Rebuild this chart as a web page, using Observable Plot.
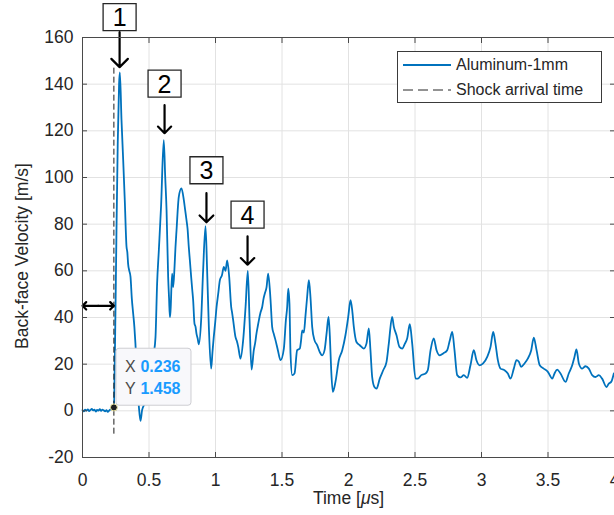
<!DOCTYPE html>
<html>
<head>
<meta charset="utf-8">
<script src="https://cdn.jsdelivr.net/npm/d3@7"></script>
<script src="https://cdn.jsdelivr.net/npm/@observablehq/plot@0.6"></script>
<style>
  html, body { margin: 0; padding: 0; background: white; }
  #wrap { position: relative; width: 614px; height: 515px; overflow: hidden; font-family: "Liberation Sans", Arial, sans-serif; }
  #legend { position: absolute; left: 397px; top: 51px; width: 203px; height: 50px; border: 1px solid #3a3a3a; background: white; font-size: 16px; color: #262626; }
  #legend .row { position: absolute; left: 0; height: 20px; display: flex; align-items: center; }
  #legend svg { margin-left: 5px; margin-right: 5px; }
</style>
</head>
<body>
<div id="wrap"></div>
<script>
// ---- data ----
const seriesName = "Aluminum-1mm";
const shockName = "Shock arrival time";
const xLabel = "Time [μs]";
const yLabel = "Back-face Velocity [m/s]";
const xTicks = [0, 0.5, 1, 1.5, 2, 2.5, 3, 3.5, 4];
const yTicks = [-20, 0, 20, 40, 60, 80, 100, 120, 140, 160];

const time = [
  0, 0.01, 0.02, 0.03, 0.04, 0.05, 0.06, 0.07, 0.08, 0.09, 0.10, 0.11, 0.12, 0.13, 0.14, 0.15, 0.16, 0.17, 0.18, 0.19, 0.20, 0.21, 0.22, 0.23, 0.236,
  0.245, 0.255, 0.265, 0.275, 0.281, 0.293, 0.306, 0.318, 0.331, 0.337, 0.343, 0.352, 0.361, 0.371, 0.381, 0.39, 0.398, 0.411, 0.424, 0.436, 0.448, 0.467, 0.486, 0.505, 0.524, 0.537, 0.549, 0.561, 0.574, 0.591, 0.611,
  0.622, 0.632, 0.644, 0.651, 0.657, 0.662, 0.674, 0.682, 0.692, 0.699, 0.707, 0.724, 0.744, 0.762, 0.772, 0.782, 0.790, 0.799, 0.808, 0.817, 0.825, 0.832, 0.842, 0.850, 0.857, 0.866, 0.875, 0.892, 0.907, 0.925,
  0.937, 0.950, 0.967, 0.977, 0.987, 0.998, 1.008, 1.020, 1.033, 1.048, 1.063, 1.075, 1.088, 1.103, 1.118, 1.125, 1.133, 1.150, 1.160, 1.171, 1.188, 1.208, 1.226, 1.243, 1.256, 1.271,
  1.288, 1.298, 1.308, 1.317, 1.326, 1.338, 1.351, 1.361, 1.371, 1.384, 1.396, 1.414, 1.426, 1.438, 1.451, 1.469, 1.489, 1.514, 1.529, 1.539, 1.547, 1.556, 1.564, 1.577, 1.594, 1.614, 1.634, 1.643, 1.652, 1.664, 1.677, 1.689, 1.702,
  1.714, 1.727, 1.744, 1.765, 1.784, 1.802, 1.820, 1.835, 1.850, 1.860, 1.870, 1.882, 1.902, 1.927, 1.953, 1.977, 1.998, 2.015, 2.028, 2.040, 2.060, 2.085, 2.115, 2.135, 2.153, 2.165, 2.178, 2.195, 2.211, 2.235, 2.261, 2.286, 2.303, 2.328,
  2.341, 2.361, 2.383, 2.404, 2.424, 2.441, 2.461, 2.479, 2.504, 2.521, 2.547, 2.579, 2.596, 2.617, 2.641, 2.662, 2.687, 2.712, 2.742, 2.762, 2.780, 2.797, 2.817, 2.842, 2.867, 2.892, 2.917, 2.942, 2.962, 2.987,
  3.012, 3.043, 3.068, 3.088, 3.105, 3.123, 3.143, 3.173, 3.198, 3.218, 3.243, 3.263, 3.281, 3.298, 3.323, 3.348, 3.374, 3.393, 3.414, 3.438, 3.468, 3.499, 3.532, 3.549, 3.569, 3.594, 3.632, 3.656, 3.682, 3.699, 3.714,
  3.732, 3.757, 3.782, 3.807, 3.832, 3.857, 3.882, 3.907, 3.940, 3.957, 3.975, 3.995
];
const velocity = [
  0.3, -0.2, 0.5, 0.1, 0.6, -0.1, 0.4, 0.8, 0.2, 0.5, -0.3, 0.4, 0.1, 0.7, 0.0, 0.5, 0.2, -0.2, 0.3, -0.4, 0.1, 0.6, 0.9, 1.2, 1.458,
  30, 75, 115, 140, 145, 125, 107.4, 90, 70.3, 68, 63, 60, 57.4, 48, 41.7, 36, 28.8, 13.1, 1.7, -4.3, 0.3, 3, 6, 12, 21.7, 25, 31.7, 54.6, 68.8, 88, 116,
  100, 86, 57.4, 48, 40.2, 43, 58.8, 53, 61.7, 70, 77.4, 91.7, 95.3, 90.3, 86, 81.7, 78, 70.3, 64, 57.4, 52, 47.4, 37.4, 36, 33.1, 31, 28.5, 38.8, 60.3, 79.1,
  60.3, 36, 18.1, 25, 31.7, 38, 44.5, 50, 56, 58, 61.7, 60, 64.5, 57.4, 44.5, 42, 38.8, 31.7, 30, 27.4, 22.4, 30.3, 44.5, 60, 38.8, 17.7,
  26, 29, 33.1, 36, 38.8, 42, 44.5, 48, 50.3, 53, 58.8, 47.4, 36, 33, 30.3, 26, 21.7, 26.7, 38.8, 44.5, 52.4, 46, 24.6, 15.3, 16, 26, 26.7, 30, 34.5, 33.5, 41, 48.8, 56,
  48.8, 36, 30.3, 28.1, 25.2, 23.8, 26, 33.1, 40.3, 31.7, 17.4, 8.1, 12.4, 21.7, 26, 32.4, 40.3, 47.4, 43.1, 36, 29.5, 28.1, 26.7, 28.8, 35.3, 26, 14.5, 10.2, 9.5, 13.8, 17.4, 21, 28.8, 40.3,
  36, 32.4, 27.4, 26.7, 28.8, 31, 37.1, 28.8, 13.8, 13.8, 15.3, 16, 17.4, 26, 31, 26, 23.8, 24.6, 26, 30.3, 33.8, 26, 15.3, 14.3, 15.3, 14.1, 19.5, 26, 21.7, 19.5,
  20.3, 23.1, 27.4, 33.8, 28.8, 21.7, 18.1, 17.4, 16, 13.8, 18.1, 21.7, 21, 18.8, 20.3, 22.4, 26, 31.4, 26, 19.5, 18.1, 16.7, 13.8, 16, 17.7, 16, 12.4, 16, 19.5, 23.1, 26.3,
  20.3, 18.1, 19.1, 18.1, 15.3, 14.5, 15.3, 13.8, 10.2, 11.7, 12.4, 16
];

// shock arrival (data tip)
const shockTime = 0.236;
const tipValue = 1.458;
const shockRuleFrom = -10;
const shockRuleTo = 147;
const arrivalArrowY = 45;

// numbered callouts
const calloutLabels = ["1", "2", "3", "4"];
const calloutX = [0.279, 0.617, 0.932, 1.241];
const calloutBoxY = [168.7, 140.2, 103.1, 84.1];
const calloutTail = [162.3, 131.0, 93.3, 74.8];
const calloutTip = [147.3, 119.0, 80.8, 62.6];

// ---- build tables ----
const series = time.map((t, i) => ({t, v: velocity[i]}));
const callouts = calloutLabels.map((label, i) => ({label, x: calloutX[i], box: calloutBoxY[i], tail: calloutTail[i], tip: calloutTip[i]}));
const tip = [{t: shockTime, v: tipValue}];
const midArrival = shockTime / 2;
const arrivalArrows = [{x1: midArrival, x2: 0}, {x1: midArrival, x2: shockTime}];
const tipX = [{k: "X", val: shockTime.toFixed(3)}];
const tipY = [{k: "Y", val: tipValue.toFixed(3)}];

function rectSymbol(w, h, rad = 0) {
  return {
    draw(ctx) {
      const x0 = -w / 2, y0 = -h / 2, x1 = w / 2, y1 = h / 2;
      if (!rad) { ctx.rect(x0, y0, w, h); return; }
      ctx.moveTo(x0 + rad, y0);
      ctx.lineTo(x1 - rad, y0); ctx.arcTo(x1, y0, x1, y0 + rad, rad);
      ctx.lineTo(x1, y1 - rad); ctx.arcTo(x1, y1, x1 - rad, y1, rad);
      ctx.lineTo(x0 + rad, y1); ctx.arcTo(x0, y1, x0, y1 - rad, rad);
      ctx.lineTo(x0, y0 + rad); ctx.arcTo(x0, y0, x0 + rad, y0, rad);
      ctx.closePath();
    }
  };
}

const blue = "#0072BD";
const ink = "#262626";
const tipLabel = (rows, field, dx, dy, extra) =>
  Plot.text(rows, {x: () => shockTime, y: () => tipValue, text: field, textAnchor: "start", fontSize: 16, dx, dy, ...extra});

const chart = Plot.plot({
  width: 614,
  height: 515,
  marginLeft: 82,
  marginRight: 0,
  marginTop: 37,
  marginBottom: 58,
  x: {domain: [0, 4]},
  y: {domain: [-20, 160]},
  style: {fontFamily: "'Liberation Sans', Arial, sans-serif", fontSize: "17px", color: ink, background: "white", overflow: "visible"},
  marks: [
    Plot.gridX(xTicks, {stroke: "#e2e2e2", strokeOpacity: 1}),
    Plot.gridY(yTicks, {stroke: "#e2e2e2", strokeOpacity: 1}),
    Plot.line(series, {x: "t", y: "v", stroke: blue, strokeWidth: 1.8, curve: "monotone-x"}),
    Plot.ruleX([shockTime], {y1: shockRuleFrom, y2: shockRuleTo, stroke: "#1a1a1a", strokeWidth: 1, strokeDasharray: "6,3"}),
    Plot.arrow(arrivalArrows, {x1: "x1", x2: "x2", y1: arrivalArrowY, y2: arrivalArrowY, stroke: "black", strokeWidth: 2.2, headLength: 10, headAngle: 90}),
    Plot.arrow(callouts, {x1: "x", x2: "x", y1: "tail", y2: "tip", stroke: "black", strokeWidth: 2.2, headLength: 11, headAngle: 90}),
    Plot.dot(callouts, {x: "x", y: "box", symbol: rectSymbol(33, 27), fill: "white", stroke: ink, strokeWidth: 1.3, r: 5}),
    Plot.text(callouts, {x: "x", y: "box", text: "label", fontSize: 25, fill: "black", dy: 1}),
    Plot.dot(tip, {x: "t", y: "v", symbol: rectSymbol(75, 57, 3), fill: "#f8f8fb", stroke: "#cdcdd2", strokeWidth: 1, dx: 39.6, dy: -30.7, r: 5}),
    tipLabel(tipX, "k", 11, -40.5, {fill: "#4a4a4a"}),
    tipLabel(tipY, "k", 11, -19, {fill: "#4a4a4a"}),
    tipLabel(tipX, "val", 26.5, -40.5, {fill: "#1a9bff", fontWeight: "bold"}),
    tipLabel(tipY, "val", 26.5, -19, {fill: "#1a9bff", fontWeight: "bold"}),
    Plot.dot(tip, {x: "t", y: "v", r: 3.5, fill: "#1e1e1e", stroke: "#f3eda8", strokeWidth: 1}),
    Plot.frame({stroke: "#4a4a4a", strokeWidth: 1}),
    Plot.axisX(xTicks, {anchor: "bottom", tickSize: -5, tickPadding: 21, label: null, stroke: "#4a4a4a", fill: ink, fontSize: 17.5, tickFormat: d => String(d)}),
    Plot.axisX(xTicks, {anchor: "top", tickSize: -5, label: null, stroke: "#4a4a4a", tickFormat: () => ""}),
    Plot.axisY(yTicks, {anchor: "left", tickSize: -5, label: null, stroke: "#4a4a4a", fill: ink, fontSize: 17.5, tickFormat: d => String(d)}),
    Plot.axisY(yTicks, {anchor: "right", tickSize: -5, label: null, stroke: "#4a4a4a", tickFormat: () => ""}),
    Plot.text([xLabel], {frameAnchor: "bottom", lineAnchor: "middle", textAnchor: "middle", dy: 41, fontSize: 17.5, fill: ink}),
    Plot.text([yLabel], {frameAnchor: "left", lineAnchor: "middle", textAnchor: "middle", rotate: -90, dx: -60, dy: 8.5, fontSize: 17.5, fill: ink})
  ]
});

// italic mu in the x label (real text)
d3.select(chart).selectAll("text").filter(function () { return this.textContent === xLabel; }).each(function () {
  const t = d3.select(this);
  t.text(null);
  t.append("tspan").text("Time [");
  t.append("tspan").attr("font-style", "italic").text("μ");
  t.append("tspan").text("s]");
});

const wrap = document.getElementById("wrap");
wrap.appendChild(chart);

// legend (inside the axes, as in the reference)
const legend = document.createElement("div");
legend.id = "legend";
legend.innerHTML = `
  <div class="row" style="top:3px"><svg width="48" height="4"><line x1="0" x2="48" y1="2" y2="2" stroke="${blue}" stroke-width="1.8"/></svg><span>${seriesName}</span></div>
  <div class="row" style="top:28px"><svg width="48" height="4"><line x1="0" x2="48" y1="2" y2="2" stroke="${ink}" stroke-width="1" stroke-dasharray="10,5"/></svg><span>${shockName}</span></div>`;
wrap.appendChild(legend);
</script>
</body>
</html>
